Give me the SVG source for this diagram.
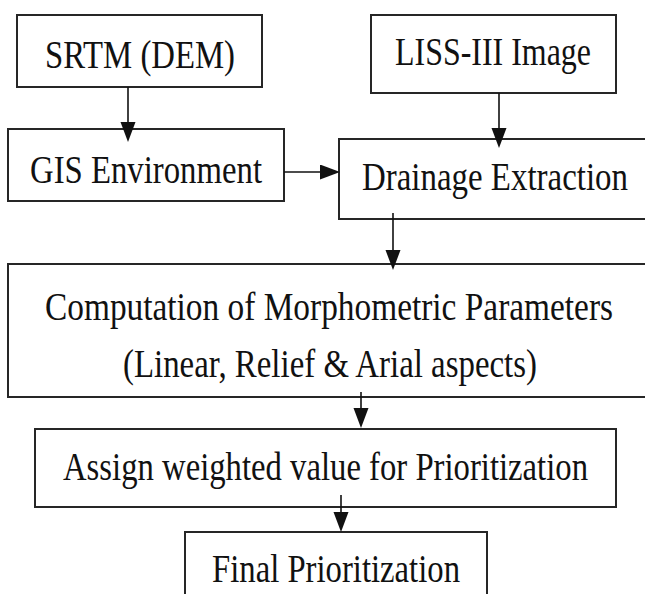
<svg xmlns="http://www.w3.org/2000/svg" width="645" height="594" viewBox="0 0 645 594">
  <style>
    .box { fill: #ffffff; stroke: #262626; stroke-width: 2; }
    .lbl { font-family: "Liberation Serif", "Times New Roman", serif; font-size: 32px; fill: #111111; }
    .wire { fill: none; stroke: #111111; stroke-width: 1.6; }
  </style>
  <defs>
    <marker id="head" markerUnits="userSpaceOnUse" markerWidth="21" markerHeight="16" refX="15" refY="7.5" orient="auto">
      <path d="M0,0 L20,7.5 L0,15 Z" fill="#111111"/>
    </marker>
  </defs>
  <rect width="645" height="594" fill="#ffffff"/>

  <!-- labels use a tall, narrow serif: 32px type stretched 1.28x vertically -->
  <g id="srtm">
    <rect class="box" x="17" y="15" width="245" height="72"/>
    <text class="lbl" transform="translate(45,68) scale(1,1.28)" textLength="190" lengthAdjust="spacingAndGlyphs">SRTM (DEM)</text>
  </g>

  <g id="liss">
    <rect class="box" x="371" y="15" width="245" height="78"/>
    <text class="lbl" transform="translate(395,65) scale(1,1.28)" textLength="196" lengthAdjust="spacingAndGlyphs">LISS-III Image</text>
  </g>

  <g id="gis">
    <rect class="box" x="8" y="129" width="276" height="72"/>
    <text class="lbl" transform="translate(30,183) scale(1,1.28)" textLength="232" lengthAdjust="spacingAndGlyphs">GIS Environment</text>
  </g>

  <g id="drainage">
    <rect class="box" x="339" y="139" width="312" height="80"/>
    <text class="lbl" transform="translate(362,190) scale(1,1.28)" textLength="266" lengthAdjust="spacingAndGlyphs">Drainage Extraction</text>
  </g>

  <g id="computation">
    <rect class="box" x="8" y="264" width="643" height="133"/>
    <text class="lbl" transform="translate(45,320) scale(1,1.28)" textLength="568" lengthAdjust="spacingAndGlyphs">Computation of Morphometric Parameters</text>
    <text class="lbl" transform="translate(123,377) scale(1,1.28)" textLength="414" lengthAdjust="spacingAndGlyphs">(Linear, Relief &amp; Arial aspects)</text>
  </g>

  <g id="assign">
    <rect class="box" x="35" y="429" width="581" height="78"/>
    <text class="lbl" transform="translate(63,480) scale(1,1.28)" textLength="525" lengthAdjust="spacingAndGlyphs">Assign weighted value for Prioritization</text>
  </g>

  <g id="final">
    <rect class="box" x="185" y="532" width="302" height="70"/>
    <text class="lbl" transform="translate(212,582) scale(1,1.28)" textLength="248" lengthAdjust="spacingAndGlyphs">Final Prioritization</text>
  </g>

  <g id="connectors">
    <line class="wire" x1="128" y1="87" x2="128" y2="137" marker-end="url(#head)"/>
    <line class="wire" x1="499" y1="93" x2="499" y2="143" marker-end="url(#head)"/>
    <line class="wire" x1="284" y1="172" x2="335" y2="172" marker-end="url(#head)"/>
    <line class="wire" x1="393" y1="213" x2="393" y2="265" marker-end="url(#head)"/>
    <line class="wire" x1="361" y1="392" x2="361" y2="423" marker-end="url(#head)"/>
    <line class="wire" x1="341" y1="495" x2="341" y2="527" marker-end="url(#head)"/>
  </g>
</svg>
